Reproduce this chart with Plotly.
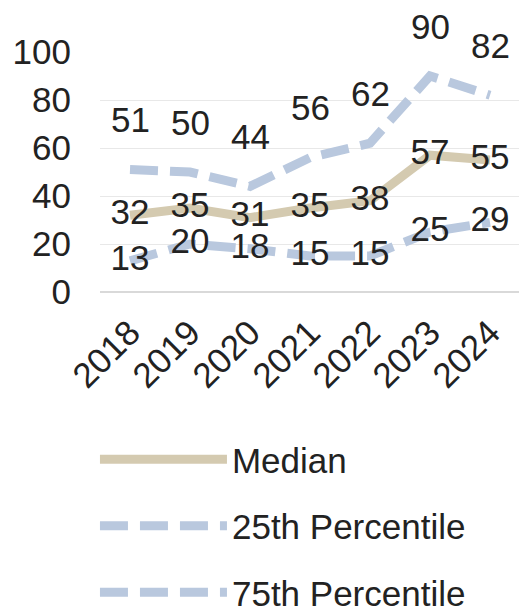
import plotly.graph_objects as go

years = ["2018", "2019", "2020", "2021", "2022", "2023", "2024"]
median = [32, 35, 31, 35, 38, 57, 55]
p25 = [13, 20, 18, 15, 15, 25, 29]
p75 = [51, 50, 44, 56, 62, 90, 82]
y_ticks = [0, 20, 40, 60, 80, 100]

FONT = "Liberation Sans, Arial, sans-serif"
SIZE = 35
TAN = "#D4CAB0"
BLUE = "#B9C8DE"
TXT = "#222222"

fig = go.Figure()
fig.add_trace(go.Scatter(
    x=years, y=median, mode="lines+text", name="Median",
    line=dict(color=TAN, width=9),
    text=[str(v) for v in median], textposition="middle center",
    textfont=dict(family=FONT, size=SIZE, color=TXT),
    legendgroup="a", cliponaxis=False,
))
fig.add_trace(go.Scatter(
    x=years, y=p25, mode="lines+text", name="25th Percentile",
    line=dict(color=BLUE, width=9, dash="28px,12px"),
    text=[str(v) for v in p25], textposition="middle center",
    textfont=dict(family=FONT, size=SIZE, color=TXT),
    legendgroup="b", cliponaxis=False,
))
fig.add_trace(go.Scatter(
    x=years, y=p75, mode="lines", name="75th Percentile",
    line=dict(color=BLUE, width=9, dash="28px,12px"),
    legendgroup="c", cliponaxis=False,
))
for i, v in enumerate(p75):
    fig.add_annotation(x=i, y=v, xref="x", yref="y", text=str(v),
                       showarrow=False, yshift=50,
                       font=dict(family=FONT, size=SIZE, color=TXT))

fig.update_layout(
    width=527, height=613,
    margin=dict(l=92, r=15, t=44, b=329, autoexpand=False),
    paper_bgcolor="white", plot_bgcolor="white",
    font=dict(family=FONT, size=SIZE, color=TXT),
    showlegend=True,
    legend=dict(
        orientation="v", x=-0.012, xanchor="left", y=-0.575, yanchor="top",
        xref="paper", yref="paper",
        font=dict(family=FONT, size=SIZE, color=TXT),
        itemwidth=127, tracegroupgap=18, traceorder="grouped",
        bgcolor="rgba(0,0,0,0)",
    ),
)
fig.update_xaxes(
    type="category", tickangle=-45, showgrid=False, showline=False,
    zeroline=False, ticklabelstandoff=12, automargin=False,
    tickfont=dict(family=FONT, size=SIZE, color=TXT),
    range=[-0.5, 6.5],
)
fig.update_yaxes(
    range=[0, 100], tickvals=y_ticks, showgrid=True, gridcolor="#E8E8E8",
    gridwidth=1, zeroline=True, zerolinecolor="#D9D9D9", zerolinewidth=2,
    showline=False, ticklabelstandoff=28, automargin=False,
    tickfont=dict(family=FONT, size=SIZE, color=TXT),
)
fig.write_html("out.html")
